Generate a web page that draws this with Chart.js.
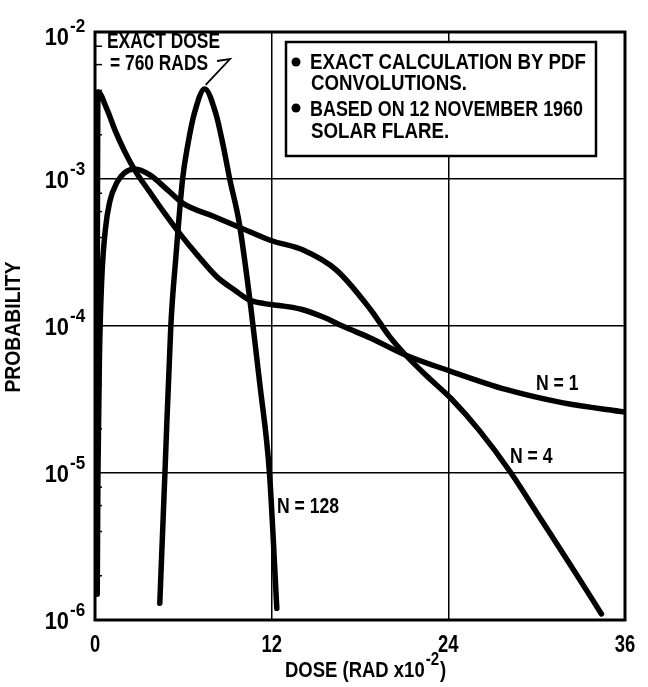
<!DOCTYPE html>
<html>
<head>
<meta charset="utf-8">
<script src="https://cdn.jsdelivr.net/npm/chart.js@4.4.1/dist/chart.umd.min.js"></script>
<style>
html, body { margin: 0; padding: 0; background: #fff; }
</style>
</head>
<body>
<canvas id="myChart" width="648" height="687"></canvas>
<script>
// axis values
var xTicks = [0, 12, 24, 36];
var yDecades = [-2, -3, -4, -5, -6];
var minorSteps = [2, 4, 6, 8];

// N = 1 curve
var n1Dose = [0.05, 0.1, 0.15, 0.2, 0.8, 1.4, 2.0, 2.7, 3.7, 4.7, 5.8, 7.0, 8.3, 9.5, 10.5, 11.5, 12.5, 14.0, 15.5, 17.0, 18.7, 21.0, 24.2, 27.9, 31.8, 36];
var n1Prob = [1.5e-6, 1e-5, 2e-4, 3.9e-3, 3.0e-3, 2.1e-3, 1.55e-3, 1.15e-3, 8.2e-4, 5.9e-4, 4.2e-4, 3.0e-4, 2.15e-4, 1.75e-4, 1.5e-4, 1.42e-4, 1.38e-4, 1.3e-4, 1.15e-4, 9.8e-5, 8.3e-5, 6.4e-5, 4.9e-5, 3.7e-5, 3.0e-5, 2.6e-5];

// N = 4 curve
var n4Dose = [0.15, 0.2, 0.3, 0.45, 0.7, 1.0, 1.5, 2.0, 2.7, 3.7, 5.0, 6.0, 8.0, 9.8, 12.0, 14.1, 16.4, 18.7, 20.0, 21.0, 22.5, 24.2, 26.1, 28.2, 30.2, 32.5, 34.4];
var n4Prob = [1.5e-6, 1e-5, 6e-5, 2e-4, 4.5e-4, 7e-4, 9.5e-4, 1.1e-3, 1.17e-3, 1.07e-3, 8.3e-4, 6.8e-4, 5.6e-4, 4.7e-4, 3.8e-4, 3.3e-4, 2.4e-4, 1.3e-4, 8.5e-5, 6.5e-5, 4.6e-5, 3.2e-5, 1.95e-5, 1.02e-5, 5e-6, 2.2e-6, 1.1e-6];

// N = 128 curve
var n128Dose = [4.4, 4.75, 5.15, 5.5, 5.95, 6.3, 6.75, 7.45, 8.2, 8.7, 9.15, 9.8, 10.6, 11.2, 11.85, 12.35];
var n128Prob = [1.3e-6, 1e-5, 1e-4, 3e-4, 1e-3, 1.7e-3, 2.8e-3, 4.1e-3, 2.8e-3, 1.7e-3, 1e-3, 5e-4, 1.3e-4, 4e-5, 1e-5, 1.2e-6];

var curveNames = ['N = 1', 'N = 4', 'N = 128'];
var noteLines = ['EXACT CALCULATION BY PDF', 'CONVOLUTIONS.', 'BASED ON 12 NOVEMBER 1960', 'SOLAR FLARE.'];
var doseNote = ['EXACT DOSE', '= 760 RADS'];
var xTitle = ['DOSE (RAD x10', '-2', ')'];
var yTitle = 'PROBABILITY';

function pts(xs, ys) {
    var out = [];
    for (var i = 0; i < xs.length; i++) {
        out.push({x: xs[i], y: ys[i]});
    }
    return out;
}

function isDecade(v) {
    var l = Math.log10(v);
    return Math.abs(l - Math.round(l)) < 1e-6;
}

// narrow text helper (the original lettering is condensed)
function txt(ctx, s, x, y, size, opt) {
    opt = opt || {};
    var sx = opt.sx || 0.77;
    ctx.save();
    ctx.font = 'bold ' + size + 'px "Liberation Sans", Arial, sans-serif';
    ctx.textAlign = opt.align || 'left';
    ctx.textBaseline = opt.base || 'alphabetic';
    ctx.fillStyle = '#000';
    ctx.translate(x, y);
    if (opt.rot) ctx.rotate(opt.rot);
    ctx.scale(sx, 1);
    ctx.fillText(s, 0, 0);
    var w = ctx.measureText(s).width * sx;
    ctx.restore();
    return w;
}

var decor = {
    id: 'decor',
    afterDatasetsDraw: function (chart) {
        var ctx = chart.ctx;
        var a = chart.chartArea;
        var xs = chart.scales.x;
        var ys = chart.scales.y;

        // note box
        ctx.save();
        ctx.fillStyle = '#fff';
        ctx.fillRect(286, 42, 310, 114);
        ctx.lineWidth = 2.5;
        ctx.strokeStyle = '#000';
        ctx.strokeRect(286, 42, 310, 114);
        ctx.fillStyle = '#000';
        ctx.beginPath(); ctx.arc(296, 62, 4.5, 0, Math.PI * 2); ctx.fill();
        ctx.beginPath(); ctx.arc(296, 108, 4.5, 0, Math.PI * 2); ctx.fill();
        ctx.restore();
        var base = [69, 90, 116, 138];
        for (var i = 0; i < noteLines.length; i++) {
            txt(ctx, noteLines[i], i % 2 == 0 ? 310 : 311, base[i], 22, {sx: i == 2 ? 0.815 : 0.85});
        }

        // frame
        ctx.save();
        ctx.lineWidth = 3;
        ctx.strokeStyle = '#000';
        ctx.strokeRect(a.left, a.top, a.right - a.left, a.bottom - a.top);
        // minor ticks on the left edge
        ctx.lineWidth = 1.5;
        for (var d = -6; d < -2 + 0.5; d++) {
            minorSteps.forEach(function (m) {
                var v = m * Math.pow(10, d);
                if (v > 1e-2) return;
                var py = ys.getPixelForValue(v);
                ctx.beginPath();
                ctx.moveTo(a.left, py);
                ctx.lineTo(a.left + 7, py);
                ctx.stroke();
            });
        }
        ctx.restore();

        // y tick labels 10^n
        yDecades.forEach(function (d) {
            var py = ys.getPixelForValue(Math.pow(10, d));
            if (d == -2) py += 4;
            txt(ctx, '10', 69, py + 9, 23, {align: 'right', sx: 0.95});
            txt(ctx, '-' + Math.abs(d), 70, py - 4, 19, {sx: 0.9});
        });

        // x tick labels
        xTicks.forEach(function (v) {
            txt(ctx, String(v), xs.getPixelForValue(v), 652, 23, {align: 'center', sx: 0.8});
        });

        // axis titles
        var tx = 285;
        tx += txt(ctx, xTitle[0], tx, 677, 22, {sx: 0.84});
        tx += txt(ctx, xTitle[1], tx + 1, 665, 18, {sx: 0.84}) + 2;
        txt(ctx, xTitle[2], tx, 677, 22, {sx: 0.84});
        txt(ctx, yTitle, 14, 327, 22, {align: 'center', base: 'middle', rot: -Math.PI / 2, sx: 0.88});

        // dose note with leader to the N = 128 peak
        txt(ctx, doseNote[0], 107, 48, 22, {sx: 0.79});
        txt(ctx, doseNote[1], 110, 70, 22, {sx: 0.79});
        var pk = n128Prob.indexOf(Math.max.apply(null, n128Prob));
        var px = xs.getPixelForValue(n128Dose[pk]);
        var pyk = ys.getPixelForValue(n128Prob[pk]);
        ctx.save();
        ctx.lineWidth = 1.8;
        ctx.strokeStyle = '#000';
        ctx.beginPath();
        ctx.moveTo(217, 61);
        ctx.lineTo(230, 59);
        ctx.lineTo(px + 1, pyk - 4);
        ctx.stroke();
        ctx.restore();

        // curve labels
        txt(ctx, curveNames[0], 536, 390, 22, {sx: 0.8});
        txt(ctx, curveNames[1], 510, 463, 22, {sx: 0.8});
        txt(ctx, curveNames[2], 277, 513, 22, {sx: 0.8});
    }
};

var lineStyle = {
    borderColor: '#000',
    borderWidth: 5.5,
    pointRadius: 0,
    fill: false,
    cubicInterpolationMode: 'monotone',
    borderCapStyle: 'round',
    borderJoinStyle: 'round'
};

var ctx = document.getElementById('myChart').getContext('2d');
var myChart = new Chart(ctx, {
    type: 'line',
    data: {
        datasets: [
            Object.assign({label: curveNames[0], data: pts(n1Dose, n1Prob)}, lineStyle),
            Object.assign({label: curveNames[1], data: pts(n4Dose, n4Prob)}, lineStyle),
            Object.assign({label: curveNames[2], data: pts(n128Dose, n128Prob)}, lineStyle)
        ]
    },
    options: {
        responsive: false,
        animation: false,
        layout: {padding: {top: 32, right: 23, left: 0, bottom: 0}},
        plugins: {legend: {display: false}, tooltip: {enabled: false}},
        scales: {
            x: {
                type: 'linear',
                min: 0,
                max: 36,
                ticks: {display: false, stepSize: 12},
                grid: {
                    color: function (c) { return (c.tick && (c.tick.value == 12 || c.tick.value == 24)) ? '#000' : 'rgba(0,0,0,0)'; },
                    lineWidth: 1.5,
                    drawTicks: false
                },
                border: {display: false},
                afterFit: function (s) { s.height = 67; }
            },
            y: {
                type: 'logarithmic',
                min: 1e-6,
                max: 1e-2,
                ticks: {display: false},
                grid: {
                    color: function (c) { return (c.tick && isDecade(c.tick.value)) ? '#000' : 'rgba(0,0,0,0)'; },
                    lineWidth: 1.5,
                    drawTicks: false
                },
                border: {display: false},
                afterFit: function (s) { s.width = 95; }
            }
        }
    },
    plugins: [decor]
});
</script>
</body>
</html>
